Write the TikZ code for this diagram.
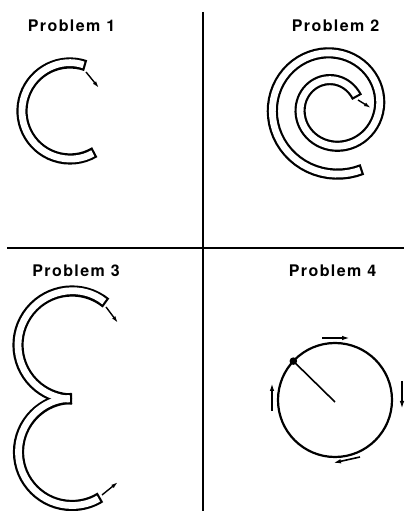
\documentclass[tikz,border=0pt]{standalone}
\usepackage{fontspec}
\newfontfamily\probfont{TeX Gyre Heros}[LetterSpace=9]
\usetikzlibrary{arrows.meta}

\begin{document}
\begin{tikzpicture}[x=1pt, y=1pt,
    declare function={coil(\t)=18.5+0.0778*\t+9*exp(-\t/45);},
    tube/.style={line width=11.2pt},
    bore/.style={line width=6.8pt, white, shorten <=2.2pt, shorten >=2.2pt},
    divider/.style={line width=1.6pt},
    title/.style={font=\probfont\bfseries\fontsize{16}{18}\selectfont, anchor=base, inner sep=0pt},
    shot/.style={line width=1.4pt, -{Latex[length=7pt,width=4pt]}},
    spin/.style={line width=1.6pt, -{Latex[length=8pt,width=4.5pt]}}]
    \useasboundingbox (0,0) rectangle (404,511);

    % Dividers
    \draw[divider] (203,499) -- (203,0);
    \draw[divider] (7,263) -- (404,263);

    % Titles
    \node[title] (p1) at (71.5,479) {Problem 1};
    \node[title] (p2) at (335.5,479) {Problem 2};
    \node[title] (p3) at (76,234) {Problem 3};
    \node[title] (p4) at (332.5,234) {Problem 4};

    % Problem 1: C-shaped tube
    \coordinate (c1) at (70,400);
    \draw[tube] ([shift={(71:48)}]c1) arc[start angle=71, end angle=301, radius=48];
    \draw[bore] ([shift={(71:48)}]c1) arc[start angle=71, end angle=301, radius=48];
    \draw[shot] (86,439) -- (99,423);

    % Problem 2: spiral tube
    \draw[tube] plot[domain=21:655, samples=110, variable=\t]
        ({333+coil(\t)*cos(\t)}, {404.5+coil(\t)*sin(\t)});
    \draw[bore] plot[domain=21:655, samples=110, variable=\t]
        ({333+coil(\t)*cos(\t)}, {404.5+coil(\t)*sin(\t)});
    \draw[shot] (358,411) -- (371,403);

    % Problem 3: two joined arcs
    \coordinate (c3a) at (72,166);
    \coordinate (c3b) at (72,59);
    \draw[tube] ([shift={(51:54)}]c3a) arc[start angle=51, end angle=270, radius=54];
    \draw[tube] ([shift={(90:53.5)}]c3b) arc[start angle=90, end angle=302, radius=53.5];
    \draw[bore] ([shift={(51:54)}]c3a) arc[start angle=51, end angle=270, radius=54];
    \draw[bore] ([shift={(90:53.5)}]c3b) arc[start angle=90, end angle=302, radius=53.5];
    \draw[shot] (106,204) -- (118,188);
    \draw[shot] (102,16) -- (118,29);

    % Problem 4: ball on a string
    \coordinate (hub) at (335,109);
    \coordinate (ball) at ([shift={(137:57)}]335,111);
    \draw[line width=2.2pt] (335,111) circle[radius=57];
    \draw[line width=1.6pt] (ball) -- (hub);
    \fill (ball) circle[radius=3.8];
    \draw[spin] (322,173) -- (350,173);
    \draw[spin] (402,130) -- (402,102);
    \draw[spin] (360,54) -- (333,48);
    \draw[spin] (272,100) -- (272,128);
\end{tikzpicture}
\end{document}
